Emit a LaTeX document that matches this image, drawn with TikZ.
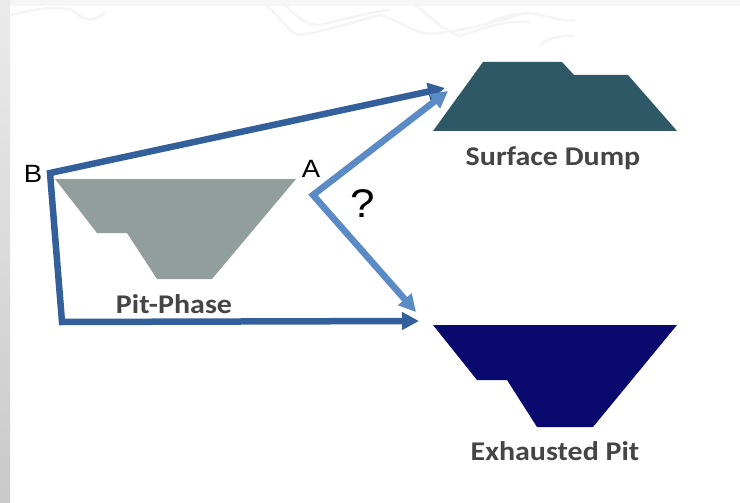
\documentclass[tikz,border=0pt]{standalone}
\usepackage{fontspec}
\setmainfont{Liberation Sans}
\newfontfamily\labelfont{Carlito}
\usetikzlibrary{arrows.meta}
\definecolor{pitgray}{HTML}{919E9B}
\definecolor{dumpteal}{HTML}{2F5866}
\definecolor{exhnavy}{HTML}{0A0A6E}
\definecolor{routedark}{HTML}{33609A}
\definecolor{routelight}{HTML}{5B8BC7}
\definecolor{captiongray}{HTML}{454545}
\tikzset{
  caption/.style={font=\labelfont\bfseries\fontsize{27}{31}\selectfont, text=captiongray, inner sep=0pt, xscale=1.11},
  corner/.style={font=\fontsize{25}{29}\selectfont, inner sep=0pt, xscale=1.1},
  route/.style={line width=6.5pt, line join=miter, {Triangle[length=17pt,width=17pt]}-{Triangle[length=17pt,width=17pt]}},
}
\begin{document}
\begin{tikzpicture}[x=1pt,y=-1pt]
  % canvas and frame
  \useasboundingbox (0,0) rectangle (740,503);
  \fill[white] (0,0) rectangle (740,503);
  \fill[gray!7] (0,0) rectangle (740,6);
  \shade[top color=gray!16, bottom color=gray!42] (0,0) rectangle (10,503);
  % faint contour lines along the top edge
  \begin{scope}[gray!8, line width=2.5pt]
    \draw (10,15) .. controls (40,8) and (65,5) .. (75,12) .. controls (85,22) and (95,22) .. (105,12);
    \draw (265,5) .. controls (280,15) and (290,35) .. (300,35) .. controls (330,30) and (360,20) .. (380,15) .. controls (400,20) and (410,32) .. (430,34) .. controls (470,30) and (500,20) .. (520,15);
    \draw (285,5) .. controls (295,15) and (305,25) .. (320,25) .. controls (350,18) and (370,12) .. (390,10);
    \draw (415,5) .. controls (430,15) and (440,30) .. (460,36) .. controls (480,30) and (500,20) .. (530,22);
    \draw (490,22) .. controls (505,15) and (515,14) .. (530,13) .. controls (545,15) and (560,22) .. (575,20);
    \draw (540,45) .. controls (550,38) and (560,35) .. (575,36);
  \end{scope}

  % pit phase
  \fill[pitgray] (55,179) -- (296,179) -- (212,279) -- (157,279) -- (127,233) -- (97,233) -- cycle;
  \node[caption] (pitlabel) at (174,304) {Pit-Phase};

  % surface dump
  \fill[dumpteal] (433,131) -- (483,62) -- (562,62) -- (574,75) -- (628,75) -- (677,131) -- cycle;
  \node[caption] (dumplabel) at (553,158) {Surface Dump};

  % exhausted pit
  \fill[exhnavy] (433,325) -- (677,325) -- (593,427) -- (537,427) -- (507,380) -- (477,380) -- cycle;
  \node[caption] (exhlabel) at (555,451) {Exhausted Pit};

  % route junctions
  \coordinate (B) at (50,173);
  \coordinate (Bbottom) at (62,322);
  \coordinate (dumpin) at (445,88);
  \coordinate (pitin) at (419,321);
  \coordinate (Avertex) at (313,195);
  \coordinate (dumpinA) at (448,91);
  \coordinate (pitinA) at (416,312);

  % route B
  \draw[route, routedark] (dumpin) -- (B) -- (Bbottom) -- (pitin);

  % route A with soft shadow
  \draw[route, black, opacity=0.13, shift={(2,3)}] (dumpinA) -- (Avertex) -- (pitinA);
  \draw[route, routelight] (dumpinA) -- (Avertex) -- (pitinA);

  \node[corner] (labelB) at (33,173.5) {B};
  \node[corner] (labelA) at (311,169) {A};
  \node[corner, font=\fontsize{40}{44}\selectfont] (question) at (363,204) {?};
\end{tikzpicture}
\end{document}
